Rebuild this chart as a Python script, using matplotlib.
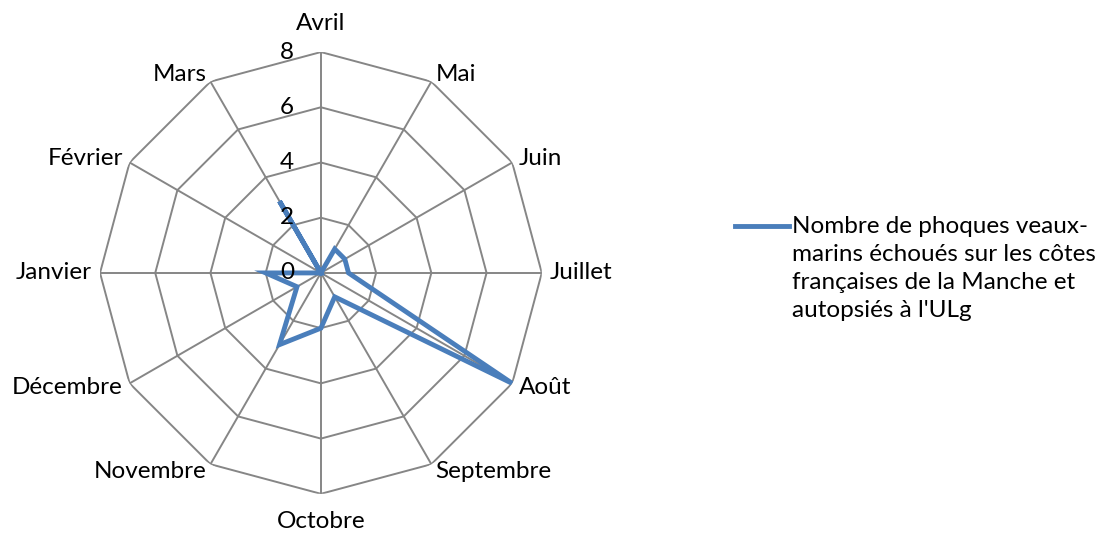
import numpy as np
import matplotlib
matplotlib.use("Agg")
import matplotlib.pyplot as plt
from matplotlib.lines import Line2D

months = ["Avril", "Mai", "Juin", "Juillet", "Août", "Septembre", "Octobre",
          "Novembre", "Décembre", "Janvier", "Février", "Mars"]
counts = [0, 1, 1, 1, 8, 1, 2, 3, 1, 2, 0, 3]
levels = [0, 2, 4, 6, 8]
series_name = "Nombre de phoques veaux-\nmarins échoués sur les côtes\nfrançaises de la Manche et\nautopsiés à l'ULg"

plt.rcParams['font.family'] = ['Lato', 'DejaVu Sans']
grid_col = "#868686"
line_col = "#4a7ebb"
fs = 17.5

fig = plt.figure(figsize=(11.1, 5.34), dpi=100)
ax = fig.add_axes([0.0901, 0.0749, 0.398, 0.828], projection='polar')
ax.set_theta_zero_location('N')
ax.set_theta_direction(-1)
ax.set_ylim(0, max(levels))
ax.grid(False)
ax.spines['polar'].set_visible(False)
ax.set_xticks([])
ax.set_yticks([])
ax.patch.set_visible(False)

n = len(months)
theta = np.arange(n) * 2 * np.pi / n
theta_c = np.append(theta, theta[0])

# rings
for lv in levels[1:]:
    ax.plot(theta_c, [lv] * (n + 1), color=grid_col, lw=1.4, zorder=1)
# spokes
for t in theta:
    ax.plot([t, t], [0, max(levels)], color=grid_col, lw=1.4, zorder=1)

# data
vals = np.append(counts, counts[0])
ax.plot(theta_c, vals, color=line_col, lw=3.5, solid_joinstyle='miter', zorder=3)

# radial tick labels
for lv in levels:
    ax.annotate(str(lv), xy=(0, lv), xytext=(-27, 0), textcoords='offset pixels',
                ha='right', va='center', fontsize=fs)

# category labels
for t, m in zip(theta, months):
    s, c = np.sin(t), np.cos(t)
    if abs(s) < 1e-6:
        off = (0, 29 if c > 0 else -28)
        ha = 'center'
    else:
        off = (8 * s, 8 * c)
        ha = 'left' if s > 0 else 'right'
    ax.annotate(m, xy=(t, max(levels)), xytext=off, textcoords='offset pixels',
                ha=ha, va='center', fontsize=fs)

# legend
fig.add_artist(Line2D([735 / 1110, 789 / 1110], [1 - 226 / 534] * 2,
                      color=line_col, lw=3.5, transform=fig.transFigure))
fig.text(792 / 1110, 1 - 216 / 534, series_name, ha='left', va='top',
         fontsize=fs, linespacing=1.42)

fig.savefig("out.png", dpi=100)
